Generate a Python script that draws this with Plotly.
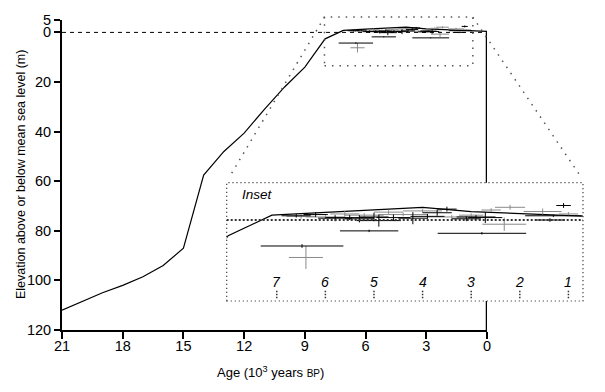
import plotly.graph_objects as go

# ---------------- data ----------------
curve_age = [21, 19, 18, 17, 16, 15, 14, 13, 12, 11, 10, 9, 8, 7.1, 6, 5, 4, 3, 2, 1, 0]
curve_elev = [-112, -105, -102, -98.5, -94, -87, -57.5, -48, -40.6, -31, -22, -14, -2.6,
              0.8, 1.3, 1.7, 2.1, 1.4, 1.0, 0.6, 0.4]

black_age = [6.48, 5.1, 2.78, 1.1, 2.71, 1.31, 1.38, 6.2, 5.8, 5.5, 5.3, 5.0, 4.9, 4.6,
             4.2, 3.9, 3.7, 3.5, 3.1, 2.9, 6.6]
black_elev = [-4.3, -1.8, -2.2, 2.4, 0.4, 0.7, 0.0, 0.9, 0.3, 0.4, 0.2, 0.5, -0.1, 0.4,
              0.3, 0.6, 1.2, 1.8, 0.2, 0.5, 0.7]
black_age_err = [0.85, 0.6, 0.91, 0.15, 0.35, 0.58, 0.31, 0.25, 0.35, 0.5, 0.3, 0.3, 0.45,
                 0.35, 0.3, 0.35, 0.3, 0.2, 0.3, 0.4, 0.3]
black_elev_err = [0.3, 0.2, 0.2, 0.4, 0.9, 0.2, 0.3, 0.4, 0.5, 0.4, 0.6, 0.7, 1.0, 0.5,
                  1.0, 0.4, 0.5, 0.4, 0.4, 0.3, 0.3]

grey_age = [6.4, 2.2, 2.59, 1.53, 2.32, 6.5, 6.0, 5.6, 5.2, 4.7, 4.4, 4.0, 3.4, 3.0, 1.0]
grey_elev = [-6.2, 2.1, 1.65, 1.4, -0.7, 0.6, 0.5, 1.0, 0.8, 1.3, 0.9, 1.5, 0.5, 0.8, 1.0]
grey_age_err = [0.35, 0.31, 0.2, 0.39, 0.45, 0.3, 0.4, 0.3, 0.4, 0.3, 0.5, 0.4, 0.5, 0.25, 0.2]
grey_elev_err = [1.9, 0.4, 0.3, 0.5, 1.1, 0.4, 0.3, 0.5, 0.3, 0.3, 0.3, 0.3, 0.3, 0.3, 0.3]

x_ticks = [21, 18, 15, 12, 9, 6, 3, 0]
y_ticks = [5, 0, -20, -40, -60, -80, -100, -120]
y_ticktext = ["5", "0", "20", "40", "60", "80", "100", "120"]
inset_ticks = [7, 6, 5, 4, 3, 2, 1]

# ---------------- layout geometry ----------------
OFF = 8  # page body margin
W, H = 605 - OFF, 392 - OFF
ML, MR, MT, MB = 62 - OFF, 22, 20 - OFF, 62
PW, PH = W - ML - MR, H - MT - MB
main_xrange = [21, 0]
main_yrange = [-120, 5]
main_xdom = [0, 425 / PW]
inset_xrange = [8.03, 0.70]
inset_yrange = [-13.4, 6.17]

FONT = "Liberation Sans, Arial, Helvetica, sans-serif"


def px_to_paper(px, py):
    """reference-image pixel -> paper coordinates"""
    return (px - OFF - ML) / PW, (H - MB - (py - OFF)) / PH


inset_xdom = [px_to_paper(226.7, 0)[0], 1.0]
inset_ydom = [px_to_paper(0, 301)[1], px_to_paper(0, 182.7)[1]]


def main_to_paper(age, elev):
    fx = (age - main_xrange[0]) / (main_xrange[1] - main_xrange[0])
    fy = (elev - main_yrange[0]) / (main_yrange[1] - main_yrange[0])
    return main_xdom[0] + fx * (main_xdom[1] - main_xdom[0]), fy


def paper_y_to_main(py_paper):
    return main_yrange[0] + py_paper * (main_yrange[1] - main_yrange[0])


fig = go.Figure()

for xa, ya in (("x", "y"), ("x2", "y2")):
    fig.add_trace(go.Scatter(x=curve_age, y=curve_elev, mode="lines",
                             line=dict(color="black", width=1.2),
                             xaxis=xa, yaxis=ya, showlegend=False, hoverinfo="skip"))
    fig.add_trace(go.Scatter(x=grey_age, y=grey_elev, mode="markers",
                             marker=dict(size=2, color="#8a8a8a", opacity=0),
                             error_x=dict(type="data", array=grey_age_err, width=0,
                                          thickness=1, color="#8a8a8a"),
                             error_y=dict(type="data", array=grey_elev_err, width=0,
                                          thickness=1, color="#8a8a8a"),
                             xaxis=xa, yaxis=ya, showlegend=False, hoverinfo="skip"))
    fig.add_trace(go.Scatter(x=black_age, y=black_elev, mode="markers",
                             marker=dict(size=2, color="black", opacity=0),
                             error_x=dict(type="data", array=black_age_err, width=0,
                                          thickness=1, color="black"),
                             error_y=dict(type="data", array=black_elev_err, width=0,
                                          thickness=1, color="black"),
                             xaxis=xa, yaxis=ya, showlegend=False, hoverinfo="skip"))

shapes = []
# sea-level dashed line (main)
shapes.append(dict(type="line", xref="x", yref="y", x0=21, x1=0, y0=0, y1=0,
                   line=dict(color="black", width=1, dash="4px,4px")))
# thick vertical line at age 0, interrupted by the inset
inset_top_elev = paper_y_to_main(inset_ydom[1])
inset_bot_elev = paper_y_to_main(inset_ydom[0])
shapes.append(dict(type="line", xref="x", yref="y", x0=0, x1=0, y0=0, y1=inset_top_elev,
                   line=dict(color="black", width=2.5)))
shapes.append(dict(type="line", xref="x", yref="y", x0=0, x1=0, y0=inset_bot_elev, y1=-120,
                   line=dict(color="black", width=2.5)))
# small dotted box in main chart (same window as inset)
bx0, by0 = main_to_paper(inset_xrange[0], inset_yrange[0])
bx1, by1 = main_to_paper(inset_xrange[1], inset_yrange[1])
shapes.append(dict(type="rect", xref="paper", yref="paper", x0=bx0, x1=bx1, y0=by0, y1=by1,
                   line=dict(color="#555", width=1.5, dash="1.5px,6px")))
# connector lines
cx0, cy0 = px_to_paper(230, 176)
cx1, cy1 = px_to_paper(579, 174)
shapes.append(dict(type="line", xref="paper", yref="paper", x0=bx0, y0=by1, x1=cx0, y1=cy0,
                   line=dict(color="#555", width=1.5, dash="1.5px,6px")))
shapes.append(dict(type="line", xref="paper", yref="paper", x0=bx1, y0=by1, x1=cx1, y1=cy1,
                   line=dict(color="#555", width=1.5, dash="1.5px,6px")))
# inset frame
shapes.append(dict(type="rect", xref="x2 domain", yref="y2 domain", x0=0, x1=1, y0=0, y1=1,
                   line=dict(color="#444", width=1.2, dash="1.2px,2.8px")))
# inset sea level
shapes.append(dict(type="line", xref="x2", yref="y2", x0=inset_xrange[0], x1=inset_xrange[1],
                   y0=0, y1=0, line=dict(color="#333", width=2, dash="2px,2px")))
# inset tick marks (dotted)
for t in inset_ticks:
    shapes.append(dict(type="line", xref="x2", yref="y2", x0=t, x1=t, y0=-11.7, y1=-13.2,
                       line=dict(color="#333", width=1.5, dash="1.5px,1.5px")))

annotations = []
for t in inset_ticks:
    annotations.append(dict(x=t, y=-10.3, xref="x2", yref="y2", text=f"<i>{t}</i>",
                            showarrow=False, font=dict(size=14, color="black", family=FONT)))
ix, iy = px_to_paper(240, 195)
annotations.append(dict(x=ix, y=iy, xref="paper", yref="paper", text="<i>Inset</i>",
                        showarrow=False, xanchor="left", yanchor="middle",
                        font=dict(size=13.5, color="black", family=FONT)))
tx, ty = px_to_paper(21, 175)
annotations.append(dict(x=tx, y=ty, xref="paper", yref="paper",
                        text="Elevation above or below mean sea level (m)", textangle=-90,
                        showarrow=False, xanchor="center", yanchor="middle",
                        font=dict(size=12.5, color="black", family=FONT)))
gx, gy = px_to_paper(270, 372)
annotations.append(dict(x=gx, y=gy, xref="paper", yref="paper",
                        text="Age (10<sup>3</sup> years <span style='font-size:10px'>BP</span>)",
                        showarrow=False, xanchor="center", yanchor="middle",
                        font=dict(size=13, color="black", family=FONT)))

fig.update_layout(
    width=W, height=H,
    margin=dict(l=ML, r=MR, t=MT, b=MB, autoexpand=False),
    paper_bgcolor="white", plot_bgcolor="white",
    font=dict(family=FONT, color="black"),
    showlegend=False,
    shapes=shapes, annotations=annotations,
    xaxis=dict(domain=main_xdom, range=main_xrange, tickvals=x_ticks,
               ticktext=[str(v) for v in x_ticks], ticks="outside", ticklen=7,
               tickwidth=2, tickcolor="black", showline=True, linewidth=2,
               linecolor="black", showgrid=False, zeroline=False, anchor="y",
               ticklabelstandoff=-5,
               tickfont=dict(size=14.5, family=FONT, color="black")),
    yaxis=dict(domain=[0, 1], range=main_yrange, tickvals=y_ticks, ticktext=y_ticktext,
               ticks="outside", ticklen=6, tickwidth=2, tickcolor="black",
               showline=True, linewidth=2, linecolor="black", showgrid=False,
               zeroline=False, anchor="x",
               tickfont=dict(size=14.5, family=FONT, color="black")),
    xaxis2=dict(domain=inset_xdom, range=inset_xrange, visible=False, anchor="y2",
                showgrid=False, zeroline=False),
    yaxis2=dict(domain=inset_ydom, range=inset_yrange, visible=False, anchor="x2",
                showgrid=False, zeroline=False),
)

fig.write_html("out.html")
